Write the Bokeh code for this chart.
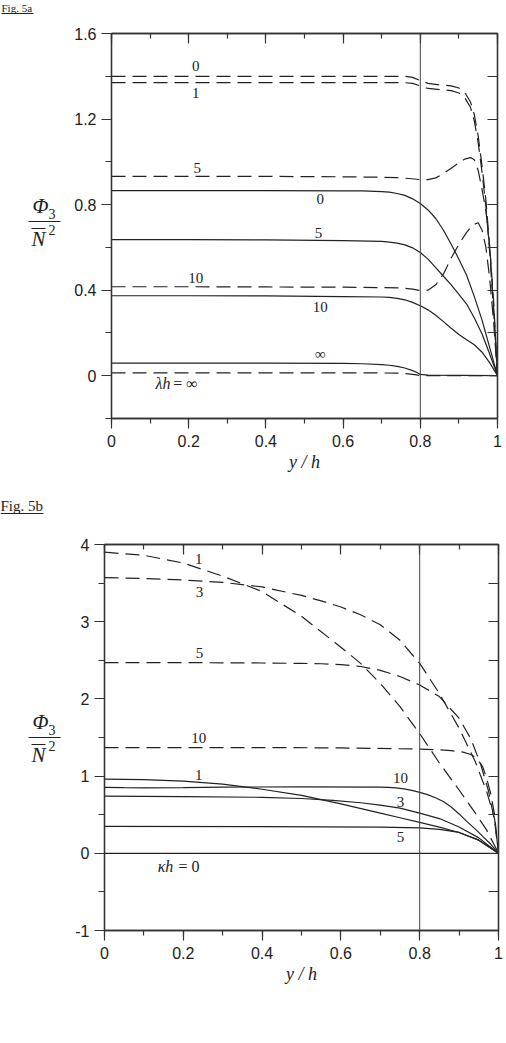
from bokeh.plotting import figure
from bokeh.models import (Range1d, LinearAxis, SingleIntervalTicker,
                          CustomJSTickFormatter, Span, Label)
from bokeh.layouts import column, row
from bokeh.core.properties import value
from bokeh.embed import file_html
from bokeh.resources import INLINE

# ---------------- Fig. 5a data (lambda h) ----------------
a_split = 0.8
# dashed curves
a_d0_x = [0, 0.2, 0.4, 0.6, 0.7, 0.76, 0.78, 0.8, 0.82, 0.85, 0.88, 0.9, 0.915, 0.93, 0.94, 0.95, 0.96, 0.97, 0.98, 0.99, 1.0]
a_d0_y = [1.40, 1.40, 1.40, 1.40, 1.40, 1.40, 1.395, 1.38, 1.367, 1.36, 1.355, 1.345, 1.325, 1.28, 1.22, 1.12, 0.98, 0.82, 0.6, 0.32, 0.0]
a_d1_x = [0, 0.2, 0.4, 0.6, 0.7, 0.76, 0.78, 0.8, 0.82, 0.85, 0.88, 0.9, 0.915, 0.93, 0.94, 0.95, 0.96, 0.97, 0.98, 0.99, 1.0]
a_d1_y = [1.37, 1.37, 1.37, 1.37, 1.37, 1.37, 1.367, 1.355, 1.343, 1.338, 1.333, 1.322, 1.30, 1.255, 1.19, 1.09, 0.95, 0.79, 0.57, 0.3, 0.0]
a_d5_x = [0, 0.2, 0.4, 0.6, 0.7, 0.74, 0.77, 0.8, 0.82, 0.84, 0.86, 0.88, 0.9, 0.915, 0.93, 0.94, 0.95, 0.96, 0.97, 0.98, 0.99, 1.0]
a_d5_y = [0.932, 0.932, 0.932, 0.93, 0.928, 0.926, 0.922, 0.917, 0.917, 0.925, 0.945, 0.97, 0.995, 1.013, 1.02, 1.01, 0.96, 0.87, 0.77, 0.6, 0.35, 0.0]
a_d10_x = [0, 0.2, 0.4, 0.6, 0.7, 0.75, 0.78, 0.8, 0.82, 0.84, 0.86, 0.88, 0.9, 0.92, 0.935, 0.95, 0.96, 0.97, 0.98, 0.99, 1.0]
a_d10_y = [0.416, 0.416, 0.415, 0.414, 0.412, 0.41, 0.405, 0.398, 0.40, 0.425, 0.476, 0.55, 0.615, 0.67, 0.705, 0.715, 0.68, 0.6, 0.45, 0.25, 0.0]
a_dinf_x = [0, 0.2, 0.4, 0.6, 0.7, 0.74, 0.77, 0.79, 0.8, 0.9, 1.0]
a_dinf_y = [0.013, 0.013, 0.013, 0.013, 0.013, 0.012, 0.009, 0.004, 0.0, 0.0, 0.0]
# solid curves
a_s0_x = [0, 0.2, 0.4, 0.6, 0.65, 0.7, 0.72, 0.74, 0.76, 0.78, 0.8, 0.82, 0.84, 0.86, 0.88, 0.9, 0.92, 0.94, 0.96, 0.98, 1.0]
a_s0_y = [0.865, 0.865, 0.865, 0.864, 0.864, 0.861, 0.858, 0.852, 0.843, 0.827, 0.805, 0.775, 0.735, 0.68, 0.615, 0.545, 0.47, 0.37, 0.26, 0.13, 0.0]
a_s5_x = [0, 0.2, 0.4, 0.6, 0.7, 0.72, 0.74, 0.76, 0.78, 0.8, 0.82, 0.84, 0.86, 0.88, 0.9, 0.92, 0.94, 0.96, 0.98, 1.0]
a_s5_y = [0.636, 0.636, 0.635, 0.632, 0.628, 0.625, 0.62, 0.612, 0.598, 0.576, 0.545, 0.505, 0.465, 0.425, 0.38, 0.335, 0.27, 0.195, 0.1, 0.0]
a_s10_x = [0, 0.2, 0.4, 0.6, 0.7, 0.72, 0.74, 0.76, 0.78, 0.8, 0.82, 0.84, 0.86, 0.88, 0.9, 0.92, 0.94, 0.96, 0.98, 1.0]
a_s10_y = [0.374, 0.374, 0.373, 0.37, 0.368, 0.366, 0.362, 0.355, 0.343, 0.327, 0.308, 0.283, 0.253, 0.222, 0.193, 0.168, 0.145, 0.11, 0.06, 0.0]
a_sinf_x = [0, 0.2, 0.4, 0.6, 0.65, 0.7, 0.72, 0.74, 0.76, 0.78, 0.79, 0.8, 0.82, 0.9, 1.0]
a_sinf_y = [0.059, 0.059, 0.059, 0.058, 0.056, 0.052, 0.049, 0.044, 0.036, 0.024, 0.016, 0.006, 0.003, 0.002, 0.0]
a_lab_text = ["0", "1", "5", "0", "5", "10", "10", "\u221e"]
a_lab_x = [0.218, 0.218, 0.222, 0.541, 0.536, 0.218, 0.541, 0.541]
a_lab_y = [1.45, 1.32, 0.973, 0.828, 0.669, 0.459, 0.323, 0.103]

# ---------------- Fig. 5b data (kappa h) ----------------
b_split = 0.8
b_d1_x = [0, 0.1, 0.2, 0.3, 0.4, 0.5, 0.6, 0.65, 0.7, 0.75, 0.8, 0.85, 0.9, 0.94, 0.97, 1.0]
b_d1_y = [3.90, 3.86, 3.76, 3.59, 3.39, 3.07, 2.67, 2.46, 2.20, 1.90, 1.55, 1.17, 0.82, 0.53, 0.30, 0.0]
b_d3_x = [0, 0.1, 0.2, 0.3, 0.4, 0.5, 0.55, 0.6, 0.65, 0.7, 0.75, 0.8, 0.85, 0.9, 0.94, 0.97, 0.99, 1.0]
b_d3_y = [3.57, 3.56, 3.54, 3.51, 3.45, 3.34, 3.27, 3.19, 3.09, 2.96, 2.76, 2.46, 2.07, 1.62, 1.20, 0.80, 0.45, 0.0]
b_d5_x = [0, 0.2, 0.4, 0.5, 0.55, 0.6, 0.65, 0.7, 0.75, 0.8, 0.85, 0.9, 0.93, 0.955, 0.975, 0.99, 1.0]
b_d5_y = [2.47, 2.47, 2.465, 2.46, 2.455, 2.445, 2.42, 2.37, 2.29, 2.18, 2.03, 1.75, 1.48, 1.15, 0.80, 0.42, 0.0]
b_d10_x = [0, 0.4, 0.6, 0.8, 0.85, 0.88, 0.91, 0.93, 0.945, 0.96, 0.97, 0.98, 0.99, 1.0]
b_d10_y = [1.37, 1.37, 1.365, 1.35, 1.34, 1.33, 1.31, 1.28, 1.23, 1.12, 0.97, 0.78, 0.50, 0.0]
b_s0_x = [0, 1.0]
b_s0_y = [0.0, 0.0]
b_s1_x = [0, 0.1, 0.2, 0.3, 0.4, 0.5, 0.6, 0.7, 0.75, 0.8, 0.85, 0.9, 0.95, 1.0]
b_s1_y = [0.96, 0.955, 0.935, 0.895, 0.83, 0.75, 0.64, 0.52, 0.46, 0.40, 0.34, 0.27, 0.17, 0.0]
b_s10_x = [0, 0.05, 0.1, 0.2, 0.3, 0.5, 0.7, 0.72, 0.74, 0.76, 0.78, 0.8, 0.82, 0.84, 0.86, 0.88, 0.9, 0.92, 0.94, 0.96, 0.98, 1.0]
b_s10_y = [0.855, 0.85, 0.848, 0.852, 0.858, 0.86, 0.858, 0.855, 0.848, 0.835, 0.815, 0.79, 0.76, 0.72, 0.67, 0.60, 0.51, 0.41, 0.32, 0.22, 0.12, 0.0]
b_s3_x = [0, 0.2, 0.4, 0.5, 0.58, 0.65, 0.7, 0.75, 0.8, 0.85, 0.9, 0.95, 1.0]
b_s3_y = [0.74, 0.735, 0.725, 0.71, 0.685, 0.655, 0.625, 0.585, 0.52, 0.45, 0.34, 0.20, 0.0]
b_s5_x = [0, 0.4, 0.7, 0.8, 0.85, 0.9, 0.95, 1.0]
b_s5_y = [0.35, 0.345, 0.34, 0.33, 0.31, 0.27, 0.17, 0.0]
b_lab_text = ["1", "3", "5", "10", "1", "10", "3", "5"]
b_lab_x = [0.239, 0.241, 0.241, 0.239, 0.239, 0.751, 0.751, 0.751]
b_lab_y = [3.81, 3.39, 2.59, 1.5, 1.02, 0.98, 0.66, 0.21]

# ---------------- styles / layout (page pixels) ----------------
INK = "#222222"
FRAME = "#333333"
SANS = "Liberation Sans"
SERIF = "Liberation Serif"
DASH = "14 7"
FMT = "return Number(tick.toFixed(2)).toString();"
W = 506
SIDE_W = 70
STRIP_A = 16          # page 0..16
ROW_A = 474           # page 16..490
STRIP_B = 30          # page 490..520
ROW_B = 1043 - STRIP_A - ROW_A - STRIP_B   # page 520..1043
A_TOP, A_BOT = 33, 418     # frame of Fig. 5a in page pixels
B_TOP, B_BOT = 544, 930    # frame of Fig. 5b in page pixels


def make_fig(height, left, right, top, bottom, yr, y_int, right_int):
    p = figure(width=W - SIDE_W, height=height, x_range=Range1d(0, 1), y_range=Range1d(*yr),
               output_backend="svg", toolbar_location=None,
               x_axis_type=None, y_axis_type=None,
               min_border_left=left, min_border_right=right,
               min_border_top=top, min_border_bottom=bottom)
    p.outline_line_color = FRAME
    p.outline_line_width = 1.3
    common = dict(axis_line_color=FRAME, axis_line_width=1.3,
                  major_tick_line_color=FRAME, minor_tick_line_color=FRAME,
                  major_tick_line_width=1.2, minor_tick_line_width=1.2)
    xb = LinearAxis(ticker=SingleIntervalTicker(interval=0.2, num_minor_ticks=2),
                    formatter=CustomJSTickFormatter(code=FMT),
                    major_tick_out=10, major_tick_in=0, minor_tick_out=5, minor_tick_in=0,
                    major_label_text_font=SANS, major_label_text_font_size="16px",
                    major_label_text_color=INK, major_label_standoff=6,
                    axis_label="y / h", axis_label_text_font=SERIF,
                    axis_label_text_font_style="italic", axis_label_text_font_size="18px",
                    axis_label_text_color=INK, axis_label_standoff=2, **common)
    p.add_layout(xb, "below")
    yl = LinearAxis(ticker=SingleIntervalTicker(interval=y_int, num_minor_ticks=2),
                    formatter=CustomJSTickFormatter(code=FMT),
                    major_tick_out=10, major_tick_in=0, minor_tick_out=6, minor_tick_in=0,
                    major_label_text_font=SANS, major_label_text_font_size="16px",
                    major_label_text_color=INK, major_label_standoff=5, **common)
    p.add_layout(yl, "left")
    xt = LinearAxis(ticker=SingleIntervalTicker(interval=0.2, num_minor_ticks=2),
                    formatter=CustomJSTickFormatter(code="return '';"),
                    major_tick_out=0, major_tick_in=10, minor_tick_out=0, minor_tick_in=5,
                    major_label_standoff=0, **common)
    p.add_layout(xt, "above")
    yr_ax = LinearAxis(ticker=SingleIntervalTicker(interval=right_int, num_minor_ticks=0),
                       formatter=CustomJSTickFormatter(code="return '';"),
                       major_tick_out=0, major_tick_in=10, minor_tick_out=0, minor_tick_in=0,
                       major_label_standoff=0, **common)
    p.add_layout(yr_ax, "right")
    return p


def blank_fig(width, height, y_bottom, y_top):
    # text-only panel; data units are page pixels (y grows downward)
    s = figure(width=width, height=height, x_range=Range1d(0, width),
               y_range=Range1d(y_bottom, y_top),
               output_backend="svg", toolbar_location=None, x_axis_type=None, y_axis_type=None,
               min_border_left=0, min_border_right=0, min_border_top=0, min_border_bottom=0)
    s.outline_line_color = None
    return s


def draw(p, x, y, dashed):
    kw = dict(line_color=INK, line_width=1.2)
    if dashed:
        kw["line_dash"] = DASH
    p.line(x, y, **kw)


def curve_labels(p, xs, ys, texts):
    p.text(x=xs, y=ys, text=texts, text_font=value(SERIF), text_font_size="15px",
           text_align="center", text_baseline="middle", text_color=INK)


def t(p, x, y, text, size, style="normal", align="center", baseline="middle"):
    p.text(x=[x], y=[y], text=[text], text_font=value(SERIF), text_font_size=size,
           text_font_style=value(style), text_align=align, text_baseline=baseline,
           text_color=INK)


def lab(p, x, y, text, size, style="normal", align="left"):
    p.add_layout(Label(x=x, y=y, text=text, text_font=SERIF, text_font_size=size,
                       text_font_style=style, text_align=align, text_baseline="middle",
                       text_color=INK))


def fraction(s, bar_y):
    t(s, 40, bar_y - 16, "\u03a6", "21px", "italic")
    t(s, 48, bar_y - 8, "3", "14px", align="left")
    s.segment(x0=[28], y0=[bar_y], x1=[60], y1=[bar_y], line_color=INK, line_width=1)
    s.segment(x0=[31], y0=[bar_y + 7], x1=[45], y1=[bar_y + 7], line_color=INK, line_width=1)
    t(s, 38, bar_y + 17, "N", "21px", "italic")
    t(s, 48, bar_y + 8, "2", "14px", align="left")


# ---------------- Fig. 5a ----------------
pa = make_fig(ROW_A, 111 - SIDE_W, 9, A_TOP - STRIP_A, STRIP_A + ROW_A - A_BOT,
              (-0.2, 1.6), 0.4, 0.2)
pa.add_layout(Span(location=a_split, dimension="height", line_color="#444444", line_width=1))
for xs, ys in [(a_d0_x, a_d0_y), (a_d1_x, a_d1_y), (a_d5_x, a_d5_y),
               (a_d10_x, a_d10_y), (a_dinf_x, a_dinf_y)]:
    draw(pa, xs, ys, True)
for xs, ys in [(a_s0_x, a_s0_y), (a_s5_x, a_s5_y), (a_s10_x, a_s10_y), (a_sinf_x, a_sinf_y)]:
    draw(pa, xs, ys, False)
curve_labels(pa, a_lab_x, a_lab_y, a_lab_text)
lab(pa, 0.114, -0.037, "\u03bbh", "16px", "italic")
lab(pa, 0.160, -0.037, "= \u221e", "16px")

# side panel: its frame is aligned with the plot frame, so use page pixels of that frame
sa = blank_fig(SIDE_W, ROW_A, A_BOT, A_TOP)
fraction(sa, 221)

# strip above Fig. 5a with its caption
ta = blank_fig(W, STRIP_A, STRIP_A, 0)
t(ta, 1, 1, "Fig. 5a", "11px", align="left", baseline="top")
ta.segment(x0=[1], y0=[13], x1=[33], y1=[13], line_color=INK, line_width=1)

# ---------------- Fig. 5b ----------------
row_b_top = STRIP_A + ROW_A + STRIP_B
pb = make_fig(ROW_B, 104 - SIDE_W, 8, B_TOP - row_b_top, 1043 - B_BOT, (-1, 4), 1, 0.5)
pb.add_layout(Span(location=b_split, dimension="height", line_color="#444444", line_width=1))
for xs, ys in [(b_d1_x, b_d1_y), (b_d3_x, b_d3_y), (b_d5_x, b_d5_y), (b_d10_x, b_d10_y)]:
    draw(pb, xs, ys, True)
for xs, ys in [(b_s0_x, b_s0_y), (b_s1_x, b_s1_y), (b_s10_x, b_s10_y),
               (b_s3_x, b_s3_y), (b_s5_x, b_s5_y)]:
    draw(pb, xs, ys, False)
curve_labels(pb, b_lab_x, b_lab_y, b_lab_text)
lab(pb, 0.135, -0.168, "\u03bah", "16px", "italic")
lab(pb, 0.188, -0.168, "= 0", "16px")

sb = blank_fig(SIDE_W, ROW_B, B_BOT, B_TOP)
fraction(sb, 737)

strip_b_top = STRIP_A + ROW_A
tb = blank_fig(W, STRIP_B, strip_b_top + STRIP_B, strip_b_top)
t(tb, 0, 497, "Fig. 5b", "15px", align="left", baseline="top")
tb.segment(x0=[0], y0=[513], x1=[43], y1=[513], line_color=INK, line_width=1)

layout = column(ta, row(sa, pa), tb, row(sb, pb))
open("out.html", "w").write(file_html(layout, INLINE))
